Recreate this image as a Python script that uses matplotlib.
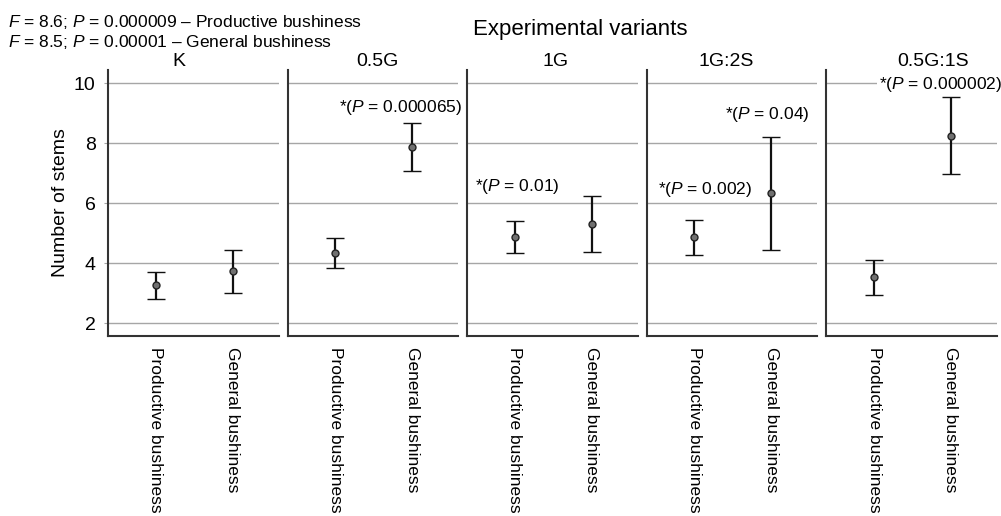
import matplotlib
matplotlib.use("Agg")
import matplotlib.pyplot as plt

plt.rcParams['font.family'] = ['Liberation Sans', 'DejaVu Sans']
plt.rcParams['mathtext.fontset'] = 'custom'
plt.rcParams['mathtext.rm'] = 'Liberation Sans'
plt.rcParams['mathtext.it'] = 'Liberation Sans:italic'

# data (mean and error-bar ends)
variants = ['K', '0.5G', '1G', '1G:2S', '0.5G:1S']
groups = ['Productive bushiness', 'General bushiness']

productive_mean = [3.27, 4.33, 4.88, 4.87, 3.53]
productive_low = [2.80, 3.83, 4.33, 4.28, 2.93]
productive_high = [3.70, 4.83, 5.41, 5.45, 4.12]

general_mean = [3.73, 7.87, 5.31, 6.33, 8.25]
general_low = [3.00, 7.07, 4.37, 4.43, 6.97]
general_high = [4.43, 8.67, 6.25, 8.22, 9.53]

# significance notes: (panel index, text)
notes = [
    (1, 'P = 0.000065'),
    (2, 'P = 0.01'),
    (3, 'P = 0.002'),
    (3, 'P = 0.04'),
    (4, 'P = 0.000002'),
]
# where each note sits (x in category units, y in data units)
note_pos = [(0.85, 9.2), (0.03, 6.55), (0.14, 6.45), (0.95, 8.95), (0.86, 9.95)]
title_x = [0.415, 0.526, 0.515, 0.468, 0.626]

GRID = '#a6a6a6'
SPINE = '#333333'

#%%
fig, axes = plt.subplots(1, 5, sharey=True, figsize=(10.01, 5.16), dpi=100)
fig.patch.set_facecolor('white')
plt.subplots_adjust(left=0.108, right=0.996, top=0.864, bottom=0.349, wspace=0.053)

for i, ax in enumerate(axes):
    for x, m, lo, hi in [(0, productive_mean[i], productive_low[i], productive_high[i]),
                         (1, general_mean[i], general_low[i], general_high[i])]:
        ax.errorbar([x], [m], yerr=[[m - lo], [hi - m]], fmt='o',
                    color='#111111', ecolor='#111111', elinewidth=1.6,
                    capsize=6.5, capthick=1.6, markersize=5,
                    markerfacecolor='#707070', markeredgecolor='#222222',
                    markeredgewidth=1, zorder=3)

    ax.set_xlim(-0.62, 1.6)
    ax.set_ylim(1.58, 10.44)
    ax.set_yticks([2, 4, 6, 8, 10])
    ax.yaxis.grid(True, color=GRID, linewidth=1)
    ax.set_axisbelow(True)
    for s in ['top', 'right']:
        ax.spines[s].set_visible(False)
    for s in ['left', 'bottom']:
        ax.spines[s].set_color(SPINE)
        ax.spines[s].set_linewidth(1.5)

    ax.set_xticks([0, 1])
    ax.set_xticklabels(groups, rotation=270, fontsize=12.5, va='top', ha='center')
    ax.tick_params(axis='x', length=0, pad=8, colors='black')
    if i == 0:
        ax.tick_params(axis='y', length=3, color=GRID, pad=6, labelsize=14)
    else:
        ax.tick_params(axis='y', length=0)

    ax.text(title_x[i], 1.015, variants[i], transform=ax.transAxes,
            ha='center', va='baseline', fontsize=14)

for (idx, txt), (nx, ny) in zip(notes, note_pos):
    a, b = txt.split(' = ')
    axes[idx].text(nx, ny, '*($%s$ = %s)' % (a, b), ha='center', va='center',
                   fontsize=12.5, zorder=4,
                   bbox=dict(facecolor='white', edgecolor='none', pad=1))

axes[0].set_ylabel('Number of stems', fontsize=14, labelpad=3.5)

fig.text(0.58, 0.932, 'Experimental variants', ha='center', va='baseline', fontsize=16)
fig.text(0.008, 0.948, r'$F$ = 8.6; $P$ = 0.000009 – Productive bushiness',
         ha='left', va='baseline', fontsize=12.5)
fig.text(0.008, 0.9095, r'$F$ = 8.5; $P$ = 0.00001 – General bushiness',
         ha='left', va='baseline', fontsize=12.5)

plt.savefig('out.png', dpi=100, facecolor='white')
